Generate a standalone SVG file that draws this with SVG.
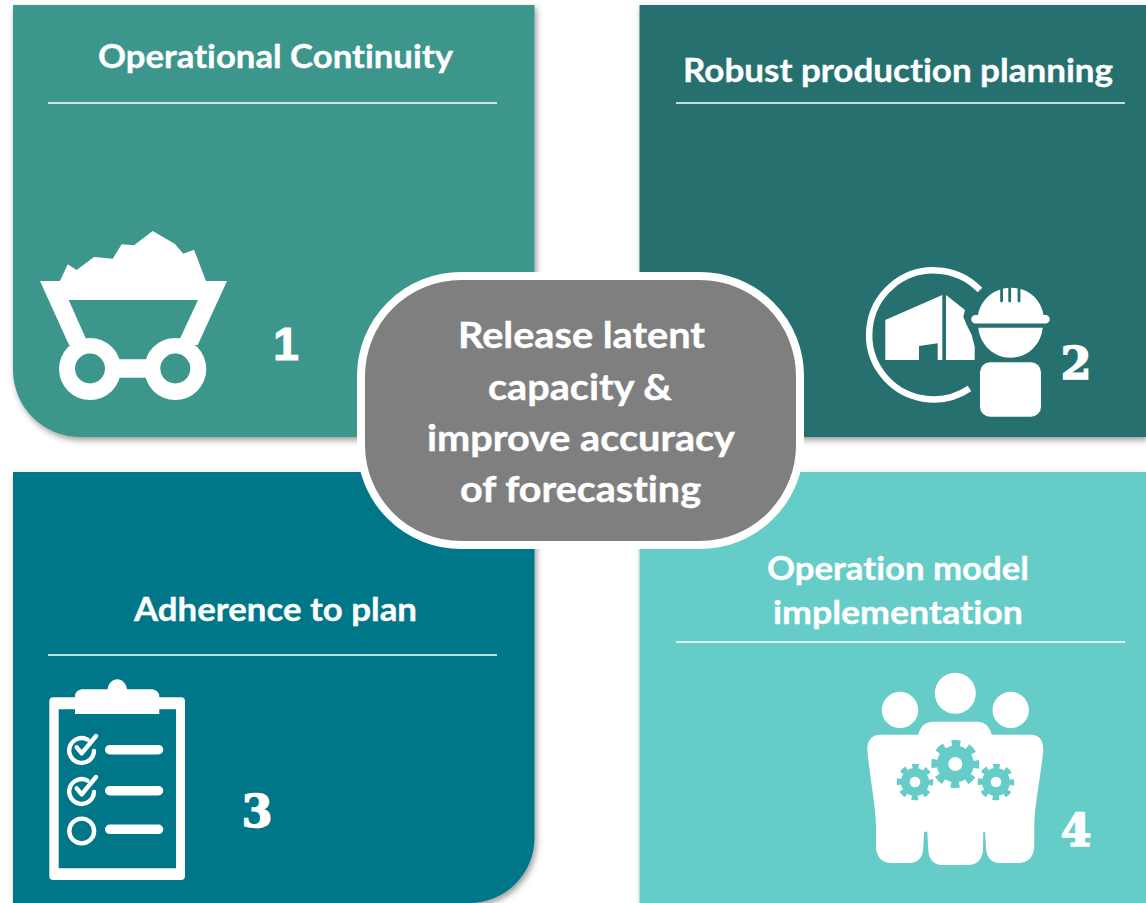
<svg xmlns="http://www.w3.org/2000/svg" xmlns:xlink="http://www.w3.org/1999/xlink" width="1146" height="903" viewBox="0 0 1146 903">
<style>
.title{font-family:"Lato","Carlito","Liberation Sans",sans-serif;font-weight:700;font-size:32px;fill:#fff;stroke:#fff;stroke-width:.35;text-anchor:middle;font-variant-ligatures:none}
.center{font-family:"Lato","Carlito","Liberation Sans",sans-serif;font-weight:700;font-size:36px;fill:#fff;stroke:#fff;stroke-width:.4;text-anchor:middle;font-variant-ligatures:none}
.num{font-family:"DejaVu Serif",serif;font-weight:700;font-size:44px;fill:#fff;stroke:#fff;stroke-width:1.6;text-anchor:middle}
.num1{font-family:"Liberation Sans",sans-serif;font-weight:700;font-size:46px;fill:#fff;stroke:#fff;stroke-width:1.2;text-anchor:middle}
.rule{stroke:#fff;stroke-width:1.6;fill:none}
.w{fill:#fff}
.ln{stroke:#fff;stroke-width:9.6;stroke-linecap:round;fill:none}
.ck{stroke:#fff;stroke-width:4.4;fill:none;stroke-linecap:round;stroke-linejoin:round}
</style>
<defs>
<filter id="sh" x="-5%" y="-5%" width="110%" height="110%"><feDropShadow dx="2" dy="3" stdDeviation="3" flood-color="#000" flood-opacity="0.4"/></filter>
<g id="gear">
<circle r="18.500" fill="#66CCC8"/>
<circle r="20.500" fill="none" stroke="#66CCC8" stroke-width="7" stroke-dasharray="8.500 7.600" stroke-dashoffset="4.250"/>
<circle r="7" fill="#fff"/>
</g>
<g id="check">
<path class="ck" d="M87.500 739.600A12.400 12.400 0 1 0 94 751"/>
<path class="ck" d="M76.700 747.300L81.700 753.300L96 736"/>
</g>
</defs>

<g id="node-1">
<path d="M13 5H534.500V437H80A67 67 0 0 1 13 370Z" fill="#3D968C" filter="url(#sh)"/>
<text class="title" x="275.500" y="67.500" textLength="355" lengthAdjust="spacingAndGlyphs">Operational Continuity</text>
<path class="rule" d="M48 103H497"/>
<path class="w" d="M40 281H60L67.700 264.300L76.700 270L94 257L112.700 258.700L121.700 244.300L134 245.300L152.700 231L175 244L183.300 253.700L194 249.700L206 281H227L197.700 345H177L198 300H68.700L88.700 345H69Z"/>
<path class="w" d="M90 359.300H175V377.700H90Z"/>
<circle class="w" cx="90" cy="369" r="31"/>
<circle class="w" cx="175.300" cy="369" r="31"/>
<circle cx="90" cy="368.500" r="15" fill="#3D968C"/>
<circle cx="175.300" cy="368.500" r="15" fill="#3D968C"/>
<text class="num1" x="286" y="360">1</text>
</g>

<g id="node-2">
<rect x="639.500" y="5" width="506.500" height="432" fill="#26716F" filter="url(#sh)"/>
<text class="title" x="898" y="82" textLength="430" lengthAdjust="spacingAndGlyphs">Robust production planning</text>
<path class="rule" d="M676 103H1125"/>
<path d="M980 290A64.500 64.500 0 1 0 969.500 388.500" fill="none" stroke="#fff" stroke-width="6.500"/>
<path class="w" d="M885.300 320L942.300 295V360H937.700V343.300L919 346V360H885.300Z"/>
<path class="w" d="M946 295L965 310L963.300 316.700L966.700 325L971.700 335L974.700 346.700V360H946Z"/>
<path class="w" d="M978 315C981 299 994 288 1011 287.700C1028 288 1041 299 1043.500 315H1045.500A4.200 4.200 0 0 1 1045.500 323.500H975.500A4.200 4.200 0 0 1 975.500 315Z"/>
<path d="M1001.600 287V301M1009.700 287V301M1019 287V301" stroke="#26716F" stroke-width="2.800" stroke-linecap="round" fill="none"/>
<path class="w" d="M978.300 327.700H1042.700C1041 345 1027 357.700 1010.500 357.700C994 357.700 980 345 978.300 327.700Z"/>
<rect class="w" x="980" y="362.300" width="61" height="54.400" rx="10"/>
<text class="num" x="1076" y="378.500">2</text>
</g>

<g id="node-3">
<path d="M13 472H534.500V838A65 65 0 0 1 469.500 903H13Z" fill="#017789" filter="url(#sh)"/>
<text class="title" x="275.500" y="621" textLength="283" lengthAdjust="spacingAndGlyphs">Adherence to plan</text>
<path class="rule" d="M48 655H497"/>
<path class="w" fill-rule="evenodd" d="M53.300 697.300H181A4 4 0 0 1 185 701.300V876A4 4 0 0 1 181 880H53.300A4 4 0 0 1 49.300 876V701.300A4 4 0 0 1 53.300 697.300ZM58.700 709.300V868.300H176V709.300Z"/>
<path class="w" d="M75 714V696C75 692 79 689.300 83 689.300H107.500C108.500 683 112.500 679.300 117.300 679.300C122 679.300 126 683 127 689.300H151C155 689.300 159.300 692 159.300 696V714Z"/>
<use xlink:href="#check" href="#check"/>
<use xlink:href="#check" href="#check" y="41"/>
<circle class="ck" cx="81.700" cy="831" r="12.400"/>
<path class="ln" d="M109.800 749.700H158.500M109.800 790.700H158.500M109.800 829.300H158.500"/>
<text class="num" x="257" y="827">3</text>
</g>

<g id="node-4">
<rect x="639.500" y="472" width="506.500" height="431" fill="#66CCC8" filter="url(#sh)"/>
<text class="title" x="898" y="580" textLength="262" lengthAdjust="spacingAndGlyphs">Operation model</text>
<text class="title" x="898" y="624" textLength="250" lengthAdjust="spacingAndGlyphs">implementation</text>
<path class="rule" d="M676 642H1125"/>
<circle class="w" cx="955.300" cy="693.300" r="20.500"/>
<circle class="w" cx="900" cy="710" r="18.200"/>
<circle class="w" cx="1010.700" cy="710" r="18.200"/>
<path class="w" d="M867.300 750C867.300 741 871 734.700 880 734.700H918.300C920 727 925 721.700 933 721.700H977C985 721.700 990 727 991.700 734.700H1031C1040 734.700 1043.300 741 1043.300 750C1041 775 1034.500 805 1034.300 825V846C1034 857 1028 863 1018 863H1000C991 863 986.500 857 986 848L985 831.700H983.300L983 850C982.500 859 977 865 968 865H942C934 865 928.500 859 928.300 850L927.300 831.700H924L923.300 848C923 857 918 863 909 863H892C882 863 876 857 876 846V825C875.500 805 869.500 775 867.300 750Z"/>
<use xlink:href="#gear" href="#gear" transform="translate(955.300 764)"/>
<use xlink:href="#gear" href="#gear" transform="translate(915 782) scale(.76)"/>
<use xlink:href="#gear" href="#gear" transform="translate(996 782) scale(.76)"/>
<text class="num" x="1076" y="846">4</text>
</g>

<g id="node-center">
<rect x="361" y="276" width="439" height="269" rx="100" ry="100" fill="#7F7F7F" stroke="#fff" stroke-width="8"/>
<text class="center" x="581.500" y="348" textLength="247" lengthAdjust="spacingAndGlyphs">Release latent</text>
<text class="center" x="580" y="400" textLength="184" lengthAdjust="spacingAndGlyphs">capacity &amp;</text>
<text class="center" x="581" y="451" textLength="308" lengthAdjust="spacingAndGlyphs">improve accuracy</text>
<text class="center" x="580.500" y="502" textLength="241" lengthAdjust="spacingAndGlyphs">of forecasting</text>
</g>
</svg>
